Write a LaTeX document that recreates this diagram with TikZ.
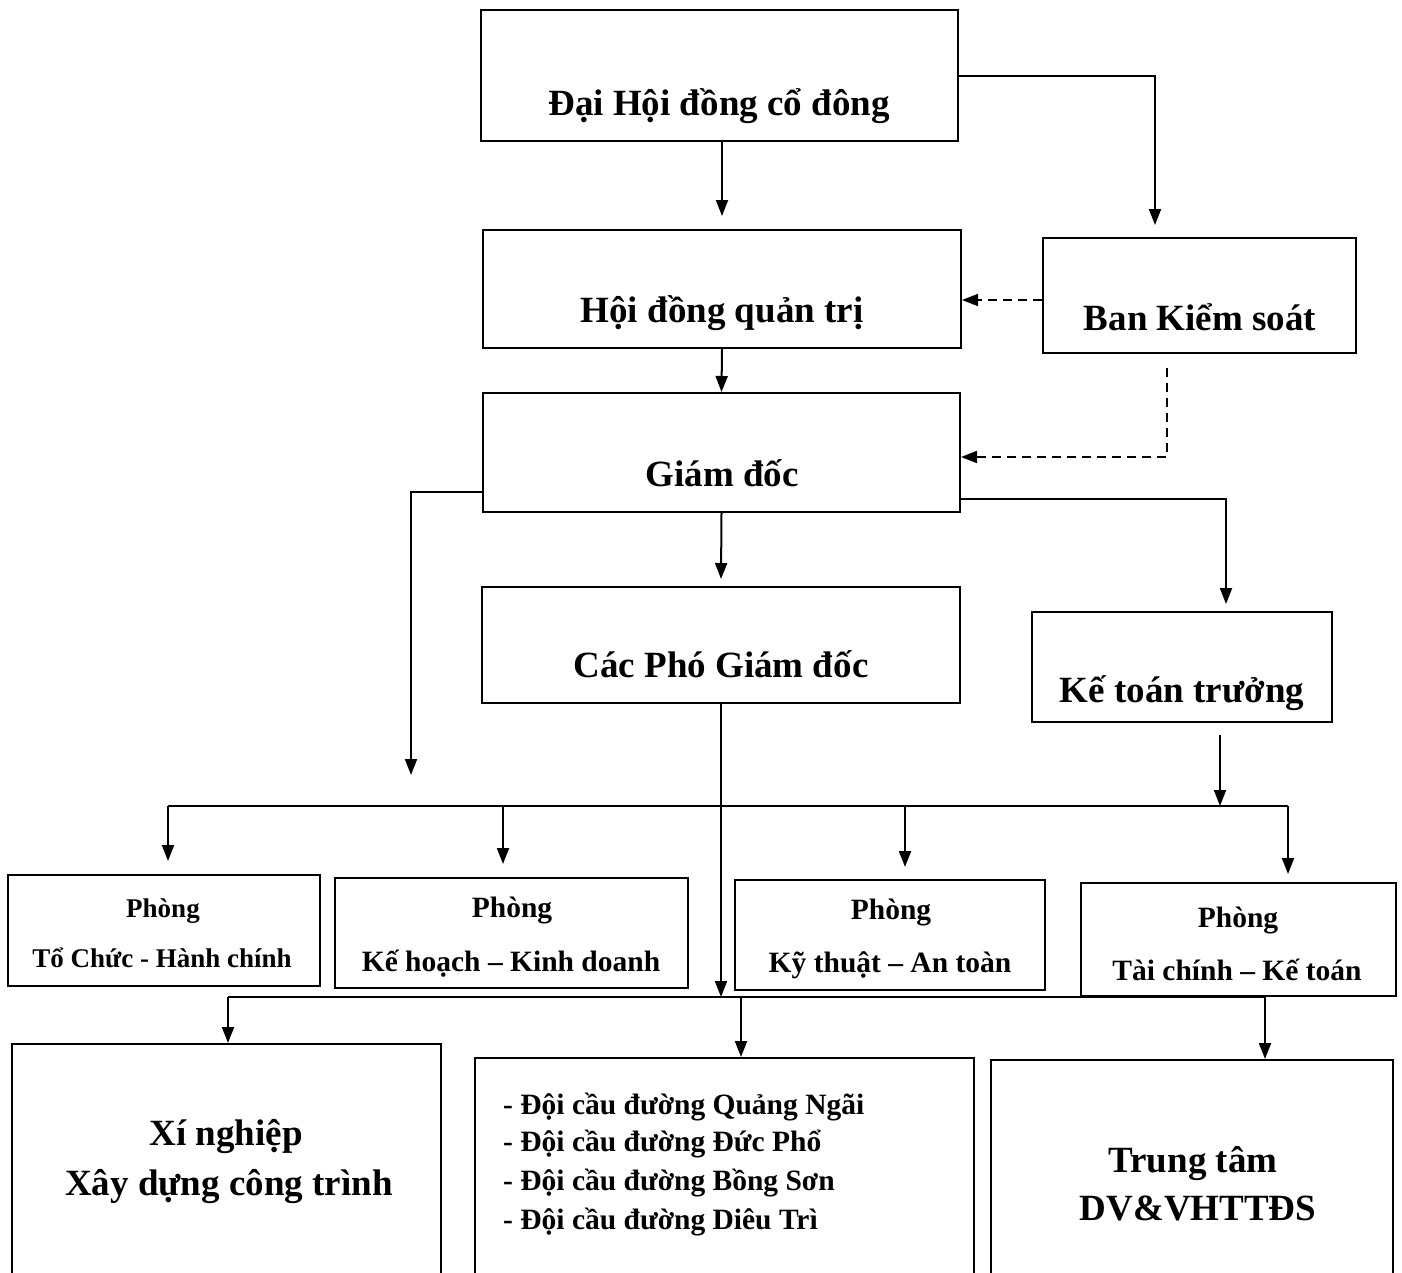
\documentclass[tikz,border=0pt]{standalone}
\usepackage{fontspec}
\setmainfont{Liberation Serif}
\usetikzlibrary{arrows.meta}
\begin{document}
\begin{tikzpicture}[x=1pt,y=-1pt,
  box/.style={draw, line width=2pt, inner sep=0pt},
  big/.style={font=\fontsize{37}{40}\selectfont\bfseries, anchor=base, inner sep=0pt},
  small/.style={font=\fontsize{29.5}{32}\selectfont\bfseries, anchor=base, inner sep=0pt},
  smaller/.style={font=\fontsize{27}{30}\selectfont\bfseries, anchor=base, inner sep=0pt},
  listtxt/.style={font=\fontsize{29.5}{32}\selectfont\bfseries, anchor=base west, inner sep=0pt},
  wire/.style={line width=2pt},
  arr/.style={line width=2pt, -{Triangle[length=16pt,width=12pt]}},
  darr/.style={arr, dash pattern=on 9pt off 6pt}]
\useasboundingbox (0,0) rectangle (1402,1272);
\clip (0,0) rectangle (1402,1272);
\fill[white] (0,0) rectangle (1402,1272);

% boxes
\node[box, minimum width=477pt, minimum height=131pt] (dh)  at (719.5,75.5) {};
\node[box, minimum width=478pt, minimum height=118pt] (hd)  at (722,289) {};
\node[box, minimum width=313pt, minimum height=115pt] (bks) at (1199.5,295.5) {};
\node[box, minimum width=477pt, minimum height=119pt] (gd)  at (721.5,452.5) {};
\node[box, minimum width=478pt, minimum height=116pt] (pgd) at (721,645) {};
\node[box, minimum width=300pt, minimum height=110pt] (ktt) at (1182,667) {};
\node[box, minimum width=312pt, minimum height=111pt] (p1)  at (164,930.5) {};
\node[box, minimum width=353pt, minimum height=110pt] (p2)  at (511.5,933) {};
\node[box, minimum width=310pt, minimum height=110pt] (p3)  at (890,935) {};
\node[box, minimum width=315pt, minimum height=113pt] (p4)  at (1238.5,939.5) {};
\node[box, minimum width=429pt, minimum height=246pt] (xn)  at (226.5,1167) {};
\node[box, minimum width=499pt, minimum height=232pt] (doi) at (724.5,1174) {};
\node[box, minimum width=402pt, minimum height=230pt] (tt)  at (1192,1175) {};

% texts
\node[big] (dht)  at (719,115) {Đại Hội đồng cổ đông};
\node[big] (hdt)  at (722,322) {Hội đồng quản trị};
\node[big] (bkst) at (1200,330) {Ban Kiểm soát};
\node[big] (gdt)  at (722,486) {Giám đốc};
\node[big] (pgdt) at (721,677) {Các Phó Giám đốc};
\node[big] (ktts) at (1182,702) {Kế toán trưởng};
\node[smaller] (p1a) at (163,917) {Phòng};
\node[smaller] (p1b) at (162,967) {Tổ Chức - Hành chính};
\node[small] (p2a) at (512,917) {Phòng};
\node[small] (p2b) at (511,971) {Kế hoạch – Kinh doanh};
\node[small] (p3a) at (891,919) {Phòng};
\node[small] (p3b) at (890,972) {Kỹ thuật – An toàn};
\node[small] (p4a) at (1238,927) {Phòng};
\node[small] (p4b) at (1237,980) {Tài chính – Kế toán};
\node[big] (xna) at (226,1145) {Xí nghiệp};
\node[big] (xnb) at (229,1195) {Xây dựng công trình};
\node[listtxt] (d1) at (503,1114) {- Đội cầu đường Quảng Ngãi};
\node[listtxt] (d2) at (503,1151) {- Đội cầu đường Đức Phổ};
\node[listtxt] (d3) at (503,1190) {- Đội cầu đường Bồng Sơn};
\node[listtxt] (d4) at (503,1229) {- Đội cầu đường Diêu Trì};
\node[big] (tta) at (1193,1172) {Trung tâm};
\node[big] (ttb) at (1198,1220) {DV\&VHTTĐS};

% helper coordinates
\coordinate (c1) at (1155,225);
\coordinate (c2) at (722,216);
\coordinate (c3) at (1167,368);
\coordinate (c4) at (1167,457);
\coordinate (gl) at (411,775);
\coordinate (gr) at (1226,604);
\coordinate (k1) at (1220,735);
\coordinate (k2) at (1220,806);
\coordinate (bl) at (168,806);
\coordinate (br) at (1288,806);
\coordinate (b2) at (503,806);
\coordinate (b3) at (905,806);
\coordinate (ql) at (228,997);
\coordinate (qm) at (741,997);
\coordinate (qr) at (1265,997);
\coordinate (qp) at (721,997);

% connectors
\draw[arr] (dh.east) -| (c1);
\draw[arr] (dh.south -| c2) -- (c2);
\draw[darr] (bks.west |- 0,300) -- (hd.east |- 0,300);
\draw[arr] (hd.south) -- (gd.north);
\draw[darr] (c3) -- (c4) -- (gd.east |- c4);
\draw[arr] (gd.west |- 0,492) -| (gl);
\draw[arr] (gd.south) -- ([yshift=7pt]pgd.north);
\draw[arr] (gd.east |- 0,499) -| (gr);
\draw[arr] (k1) -- (k2);
\draw[wire] (bl) -- (br);
\draw[arr] (bl) -- ([yshift=13pt]bl |- p1.north);
\draw[arr] (b2) -- ([yshift=13pt]b2 |- p2.north);
\draw[arr] (b3) -- ([yshift=12pt]b3 |- p3.north);
\draw[arr] (br) -- ([yshift=8pt]br |- p4.north);
\draw[arr] (pgd.south) -- (qp);
\draw[wire] (ql) -- (qr);
\draw[arr] (ql) -- (ql |- xn.north);
\draw[arr] (qm) -- (qm |- doi.north);
\draw[arr] (qr) -- (qr |- tt.north);
\end{tikzpicture}
\end{document}
